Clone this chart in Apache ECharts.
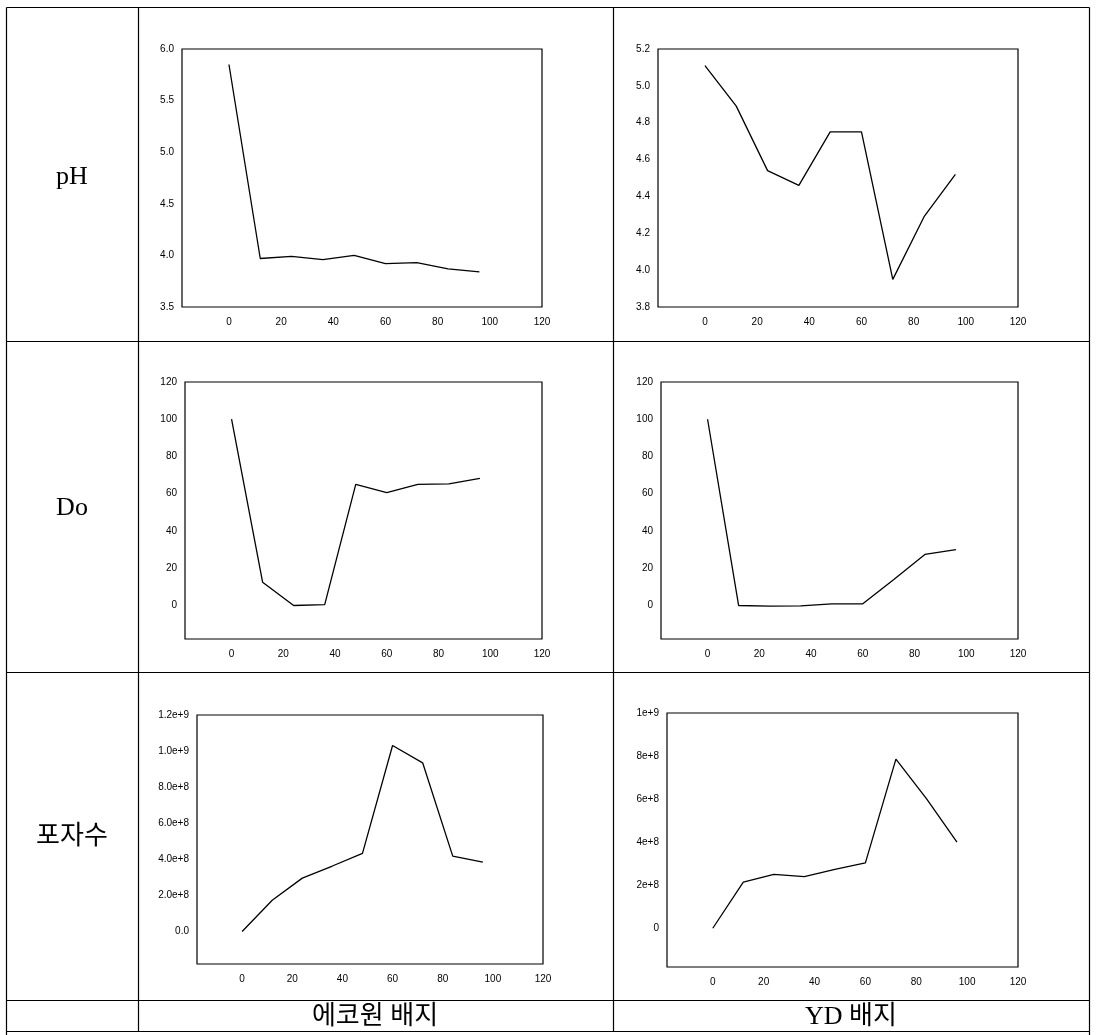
<!DOCTYPE html>
<html>
<head>
<meta charset="utf-8">
<script src="https://cdn.jsdelivr.net/npm/echarts@6/dist/echarts.min.js"></script>
<style>
html,body{margin:0;padding:0;background:#fff;}
#chart{width:1099px;height:1035px;}
</style>
</head>
<body>
<div id="chart"></div>
<script>
// ---- data ----
const hours = [0, 12, 24, 36, 48, 60, 72, 84, 96];
const xTicks = [0, 20, 40, 60, 80, 100, 120];

const phEcowon = [5.85, 3.97, 3.99, 3.96, 4.00, 3.92, 3.93, 3.87, 3.84];
const phYD = [5.11, 4.89, 4.54, 4.46, 4.75, 4.75, 3.95, 4.29, 4.52];
const doEcowon = [100, 12.5, 0, 0.5, 65, 60.6, 65, 65.3, 68.3];
const doYD = [100, 0, -0.3, -0.2, 0.9, 0.9, 14, 27.4, 30];
const sporeEcowon = [0, 1.73e8, 2.96e8, 3.63e8, 4.33e8, 10.31e8, 9.35e8, 4.18e8, 3.85e8];
const sporeYD = [0, 2.14e8, 2.50e8, 2.40e8, 2.73e8, 3.04e8, 7.86e8, 6.02e8, 4.0e8];

const phEcowonTicks = [3.5, 4.0, 4.5, 5.0, 5.5, 6.0];
const phEcowonTickLabels = ['3.5', '4.0', '4.5', '5.0', '5.5', '6.0'];
const phYDTicks = [3.8, 4.0, 4.2, 4.4, 4.6, 4.8, 5.0, 5.2];
const phYDTickLabels = ['3.8', '4.0', '4.2', '4.4', '4.6', '4.8', '5.0', '5.2'];
const doTicks = [0, 20, 40, 60, 80, 100, 120];
const doTickLabels = ['0', '20', '40', '60', '80', '100', '120'];
const sporeEcowonTicks = [0, 2e8, 4e8, 6e8, 8e8, 1e9, 1.2e9];
const sporeEcowonTickLabels = ['0.0', '2.0e+8', '4.0e+8', '6.0e+8', '8.0e+8', '1.0e+9', '1.2e+9'];
const sporeYDTicks = [0, 2e8, 4e8, 6e8, 8e8, 1e9];
const sporeYDTickLabels = ['0', '2e+8', '4e+8', '6e+8', '8e+8', '1e+9'];

const rowLabels = ['pH', 'Do', '포자수'];
const colLabels = ['에코원 배지', 'YD 배지'];

// ---- layout ----
const grids = [
  {left: 182, top: 49, width: 360, height: 258},
  {left: 658, top: 49, width: 360, height: 258},
  {left: 185, top: 382, width: 357, height: 257},
  {left: 661, top: 382, width: 357, height: 257},
  {left: 197, top: 715, width: 346, height: 249},
  {left: 667, top: 713, width: 351, height: 254}
];
const yCfg = [
  {min: 3.5, max: 6.0, ticks: phEcowonTicks, labels: phEcowonTickLabels, data: phEcowon},
  {min: 3.8, max: 5.2, ticks: phYDTicks, labels: phYDTickLabels, data: phYD},
  {min: -18, max: 120, ticks: doTicks, labels: doTickLabels, data: doEcowon},
  {min: -18, max: 120, ticks: doTicks, labels: doTickLabels, data: doYD},
  {min: -1.8e8, max: 1.2e9, ticks: sporeEcowonTicks, labels: sporeEcowonTickLabels, data: sporeEcowon},
  {min: -1.8e8, max: 1.0e9, ticks: sporeYDTicks, labels: sporeYDTickLabels, data: sporeYD}
];

const tickFont = {fontFamily: '"Liberation Sans", Arial, sans-serif', fontSize: 10, color: '#000'};

const option = {
  animation: false,
  backgroundColor: '#fff',
  grid: grids.map(g => Object.assign({show: true, borderColor: '#000', borderWidth: 1.2, backgroundColor: 'transparent'}, g)),
  xAxis: grids.map((g, i) => ({
    type: 'value', gridIndex: i, min: -18, max: 120, position: 'bottom',
    axisLine: {show: false, onZero: false},
    axisTick: {show: false},
    splitLine: {show: false},
    axisLabel: Object.assign({customValues: xTicks, margin: 10, showMinLabel: true, showMaxLabel: true}, tickFont)
  })),
  yAxis: yCfg.map((c, i) => ({
    type: 'value', gridIndex: i, min: c.min, max: c.max, position: 'left',
    axisLine: {show: false, onZero: false},
    axisTick: {show: false},
    splitLine: {show: false},
    axisLabel: Object.assign({
      customValues: c.ticks, margin: 8,
      formatter: v => {
        for (let k = 0; k < c.ticks.length; k++) {
          if (Math.abs(c.ticks[k] - v) < Math.abs(c.max - c.min) * 1e-6) return c.labels[k];
        }
        return '';
      }
    }, tickFont)
  })),
  series: yCfg.map((c, i) => ({
    type: 'line', xAxisIndex: i, yAxisIndex: i,
    data: hours.map((h, k) => [h, c.data[k]]),
    showSymbol: false, symbol: 'none',
    lineStyle: {color: '#000', width: 1.3},
    silent: true
  })),
  graphic: []
};

// table lines
const L = 6.5, C1 = 138.5, C2 = 613.5, R = 1089.5;
const rows = [7.5, 341.5, 672.5, 1000.5, 1031.5];
const lineStyle = {stroke: '#000', lineWidth: 1.2};
rows.forEach(y => option.graphic.push({type: 'line', shape: {x1: L, y1: y, x2: R, y2: y}, style: lineStyle, silent: true}));
[L, R].forEach(x => option.graphic.push({type: 'line', shape: {x1: x, y1: 7.5, x2: x, y2: 1035}, style: lineStyle, silent: true}));
[C1, C2].forEach(x => option.graphic.push({type: 'line', shape: {x1: x, y1: 7.5, x2: x, y2: 1031.5}, style: lineStyle, silent: true}));

const labelFont = '26px "Liberation Serif", "Noto Sans CJK KR", serif';
const rowY = [177, 508, 837];
rowLabels.forEach((t, i) => option.graphic.push({
  type: 'text', x: 72, y: rowY[i],
  style: {text: t, font: labelFont, fill: '#000', textAlign: 'center', textVerticalAlign: 'middle'}, silent: true
}));
const colX = [375, 851];
colLabels.forEach((t, i) => option.graphic.push({
  type: 'text', x: colX[i], y: 1017,
  style: {text: t, font: labelFont, fill: '#000', textAlign: 'center', textVerticalAlign: 'middle'}, silent: true
}));

const chart = echarts.init(document.getElementById('chart'), null, {renderer: 'canvas'});
chart.setOption(option);
</script>
</body>
</html>
